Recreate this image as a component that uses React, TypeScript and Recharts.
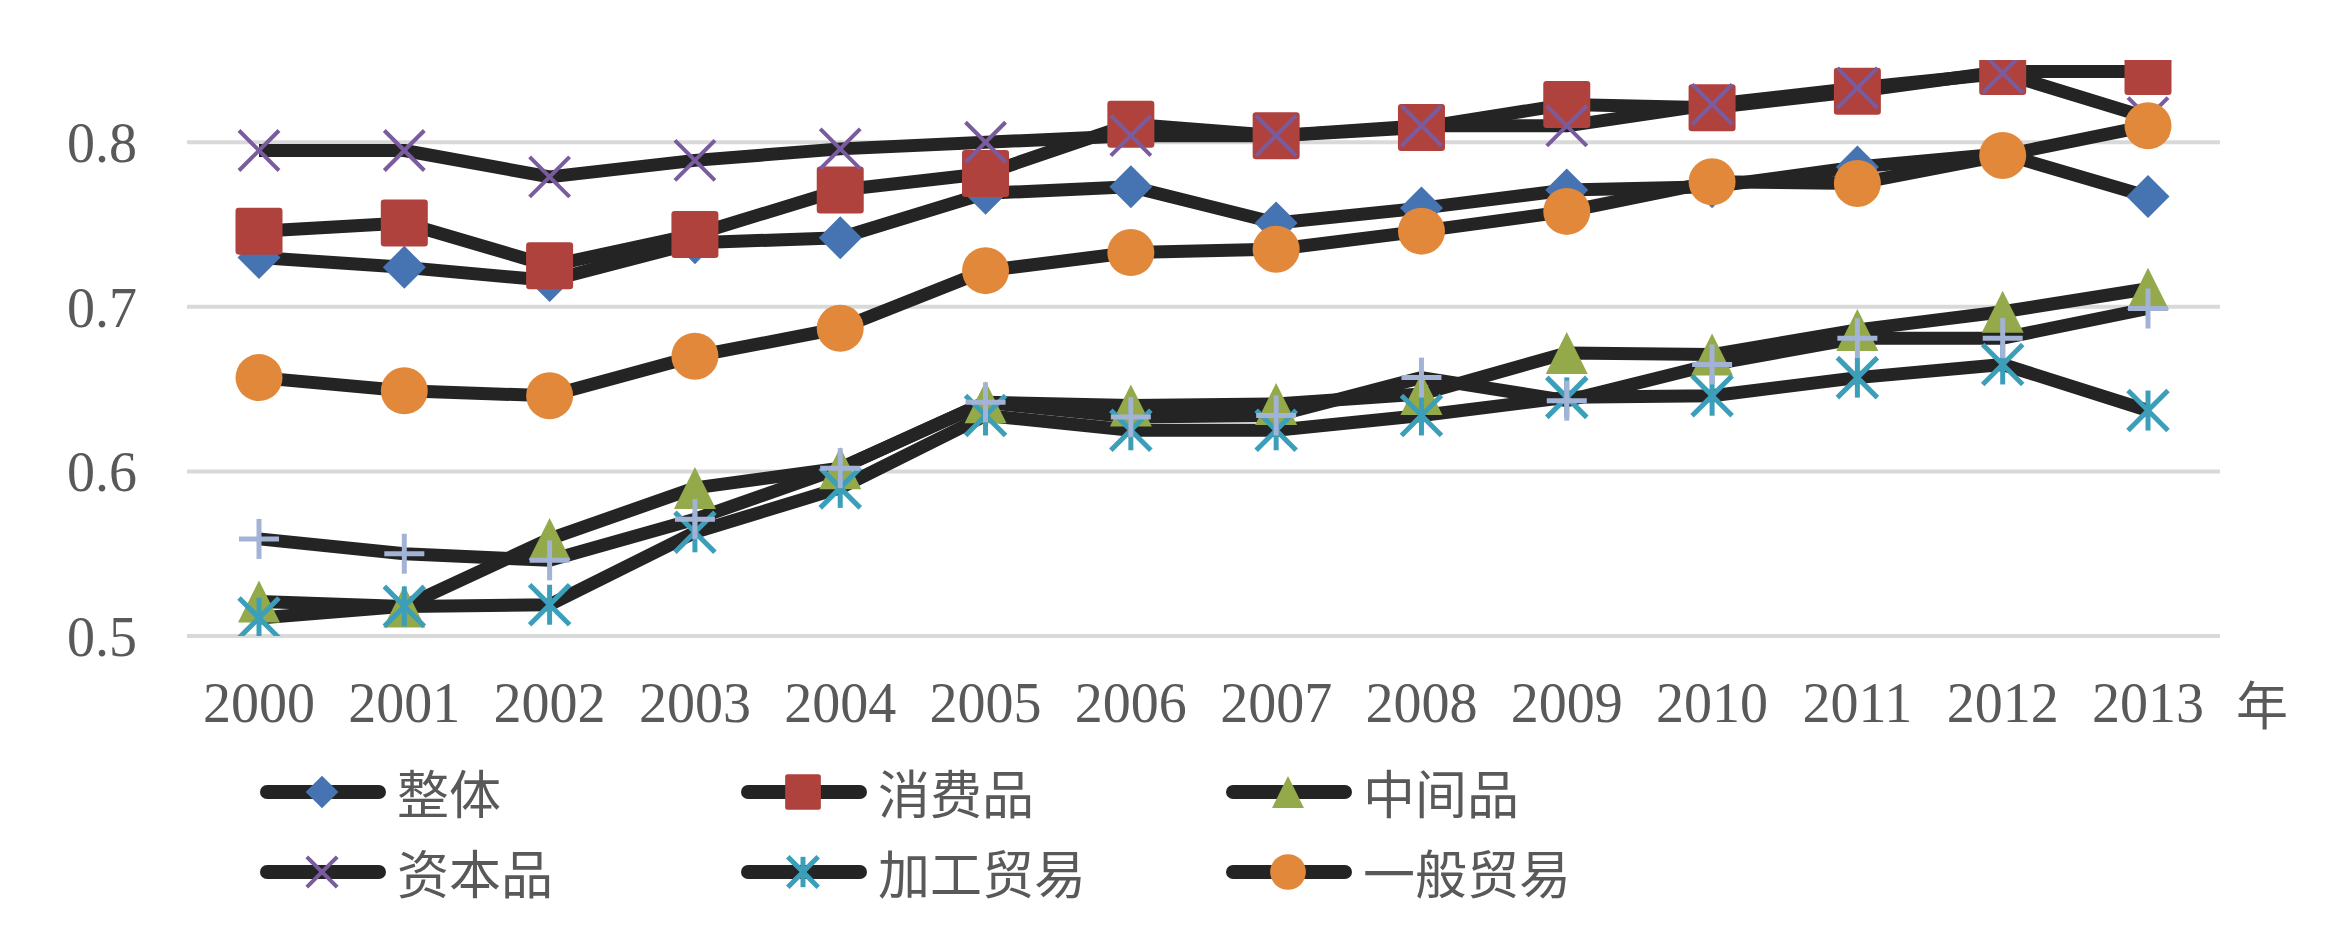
import React from 'react';
import { LineChart, Line, XAxis, YAxis, ReferenceLine } from 'recharts';

// 年份
const years = ['2000', '2001', '2002', '2003', '2004', '2005', '2006', '2007', '2008', '2009', '2010', '2011', '2012', '2013'];

// 各序列数值
const zhengti = [0.730, 0.724, 0.716, 0.739, 0.742, 0.769, 0.773, 0.751, 0.760, 0.771, 0.773, 0.785, 0.793, 0.767];
const xiaofeipin = [0.746, 0.751, 0.725, 0.744, 0.771, 0.781, 0.811, 0.804, 0.809, 0.823, 0.821, 0.831, 0.843, 0.843];
const zhongjianpin = [0.521, 0.518, 0.559, 0.590, 0.602, 0.642, 0.640, 0.641, 0.647, 0.672, 0.671, 0.686, 0.697, 0.711];
const zibenpin = [0.795, 0.795, 0.779, 0.789, 0.796, 0.800, 0.804, 0.804, 0.810, 0.810, 0.823, 0.833, 0.842, 0.815];
const jiagongmaoyi = [0.511, 0.518, 0.519, 0.563, 0.590, 0.634, 0.625, 0.625, 0.634, 0.645, 0.646, 0.657, 0.665, 0.637];
const yibanmaoyi = [0.657, 0.649, 0.646, 0.670, 0.687, 0.722, 0.733, 0.735, 0.746, 0.758, 0.776, 0.775, 0.792, 0.810];
const qita = [0.559, 0.550, 0.546, 0.571, 0.602, 0.642, 0.633, 0.634, 0.657, 0.643, 0.665, 0.681, 0.681, 0.699];

const yTicks = [0.5, 0.6, 0.7, 0.8];

type Shape = 'diamond' | 'square' | 'triangle' | 'cross' | 'star' | 'circle' | 'plus';

const seriesList: { key: string; name: string; values: number[]; shape: Shape; color: string; size: number; legend: boolean }[] = [
    { key: 'zhengti', name: '整体', values: zhengti, shape: 'diamond', color: '#4673B1', size: 43, legend: true },
    { key: 'xiaofeipin', name: '消费品', values: xiaofeipin, shape: 'square', color: '#B0423E', size: 47, legend: true },
    { key: 'zhongjianpin', name: '中间品', values: zhongjianpin, shape: 'triangle', color: '#93A94A', size: 42, legend: true },
    { key: 'zibenpin', name: '资本品', values: zibenpin, shape: 'cross', color: '#7A5C9E', size: 40, legend: true },
    { key: 'jiagongmaoyi', name: '加工贸易', values: jiagongmaoyi, shape: 'star', color: '#3C9FBA', size: 40, legend: true },
    { key: 'yibanmaoyi', name: '一般贸易', values: yibanmaoyi, shape: 'circle', color: '#E2883A', size: 47, legend: true },
    { key: 'qita', name: '其他', values: qita, shape: 'plus', color: '#A3B3D6', size: 40, legend: false },
];

const data = years.map((year, i) => {
    const row: any = { year };
    seriesList.forEach(s => { row[s.key] = s.values[i]; });
    return row;
});

const LINE_COLOR = '#242424';
const TEXT_COLOR = '#595959';

const Marker = ({ shape, color, cx, cy, size }: { shape: Shape; color: string; cx: number; cy: number; size: number }) => {
    const h = size / 2;
    switch (shape) {
        case 'diamond':
            return <polygon points={`${cx},${cy - h} ${cx + h},${cy} ${cx},${cy + h} ${cx - h},${cy}`} fill={color} />;
        case 'square':
            return <rect x={cx - h} y={cy - h} width={size} height={size} rx={size * 0.07} fill={color} />;
        case 'triangle':
            return <polygon points={`${cx},${cy - h} ${cx + h},${cy + h} ${cx - h},${cy + h}`} fill={color} />;
        case 'cross':
            return (
                <g stroke={color} strokeWidth={4}>
                    <line x1={cx - h} y1={cy - h} x2={cx + h} y2={cy + h} />
                    <line x1={cx - h} y1={cy + h} x2={cx + h} y2={cy - h} />
                </g>
            );
        case 'star':
            return (
                <g stroke={color} strokeWidth={5}>
                    <line x1={cx - h} y1={cy - h} x2={cx + h} y2={cy + h} />
                    <line x1={cx - h} y1={cy + h} x2={cx + h} y2={cy - h} />
                    <line x1={cx} y1={cy - h} x2={cx} y2={cy + h} />
                </g>
            );
        case 'plus':
            return (
                <g stroke={color} strokeWidth={5}>
                    <line x1={cx - h} y1={cy} x2={cx + h} y2={cy} />
                    <line x1={cx} y1={cy - h} x2={cx} y2={cy + h} />
                </g>
            );
        case 'circle':
        default:
            return <circle cx={cx} cy={cy} r={h} fill={color} />;
    }
};

// 图例位置
const legendCols = [255, 736, 1221];
const legendRows = [792, 872];

export default function App() {
    const legendItems = seriesList.filter(s => s.legend);
    return (
        <div style={{ position: 'relative', width: 2344, height: 941, background: '#fff' }}>
            <style>{'body{margin:0}'}</style>
            <LineChart
                width={2344}
                height={941}
                data={data}
                margin={{ top: 60, right: 124, bottom: 245, left: 0 }}
            >
                <XAxis
                    dataKey="year"
                    height={60}
                    padding={{ left: 72, right: 72 }}
                    axisLine={false}
                    tickLine={false}
                    tickSize={0}
                    tickMargin={46}
                    interval={0}
                    tick={{ fill: TEXT_COLOR, fontSize: 56, fontFamily: 'Liberation Serif' }}
                />
                <YAxis
                    type="number"
                    width={187}
                    domain={[0.5, 0.85]}
                    ticks={yTicks}
                    allowDataOverflow
                    axisLine={false}
                    tickLine={false}
                    tickSize={0}
                    tickMargin={50}
                    tickFormatter={(v) => Number(v).toFixed(1)}
                    tick={{ fill: TEXT_COLOR, fontSize: 56, fontFamily: 'Liberation Serif' }}
                />
                {yTicks.map(t => (
                    <ReferenceLine key={t} y={t} stroke="#d9d9d9" strokeWidth={4} ifOverflow="extendDomain" />
                ))}
                {seriesList.map(s => (
                    <Line
                        key={s.key}
                        dataKey={s.key}
                        name={s.name}
                        type="linear"
                        stroke={LINE_COLOR}
                        strokeWidth={13}
                        strokeLinejoin="round"
                        isAnimationActive={false}
                        activeDot={false}
                        dot={(p: any) => (
                            <Marker key={`${s.key}-${p.index}`} shape={s.shape} color={s.color} cx={p.cx} cy={p.cy} size={s.size} />
                        )}
                    />
                ))}
            </LineChart>

            {/* 横轴单位 */}
            <div style={{ position: 'absolute', left: 2236, top: 676, fontSize: 52, lineHeight: '54px', color: TEXT_COLOR, fontFamily: 'Noto Sans CJK SC' }}>年</div>

            {/* 图例 */}
            {legendItems.map((s, i) => {
                const left = legendCols[i % 3];
                const top = legendRows[Math.floor(i / 3)];
                return (
                    <div key={s.key} style={{ position: 'absolute', left, top: top - 27, height: 54, display: 'flex', alignItems: 'center' }}>
                        <svg width={136} height={54}>
                            <line x1={12} y1={27} x2={124} y2={27} stroke={LINE_COLOR} strokeWidth={14} strokeLinecap="round" />
                            <Marker shape={s.shape} color={s.color} cx={67} cy={27} size={s.size * 0.76} />
                        </svg>
                        <span style={{ marginLeft: 6, fontSize: 52, lineHeight: '54px', color: TEXT_COLOR, fontFamily: 'Noto Sans CJK SC' }}>{s.name}</span>
                    </div>
                );
            })}
        </div>
    );
}
